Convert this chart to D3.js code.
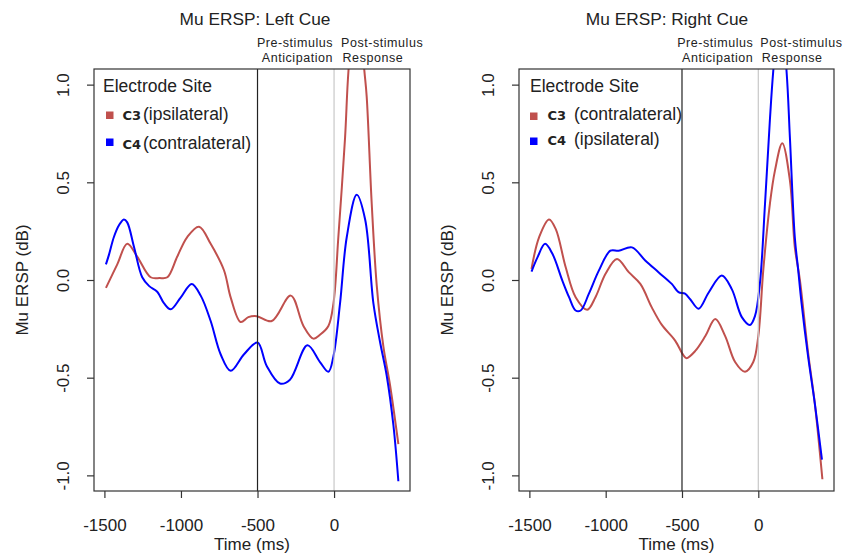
<!DOCTYPE html>
<html>
<head>
<meta charset="utf-8">
<script src="https://cdn.jsdelivr.net/npm/d3@7"></script>
<style>
  body { margin: 0; background: #fff; }
  svg { display: block; font-family: "Liberation Sans", Arial, sans-serif; }
</style>
</head>
<body>
<div id="chart"></div>
<script>
// values: [time (ms), ERSP (dB)]
const leftC3 = [[-1490,-0.04],[-1416,0.08],[-1351,0.185],[-1286,0.12],[-1198,0.014],[-1140,0.01],[-1089,0.014],
  [-1024,0.12],[-959,0.22],[-882,0.273],[-806,0.185],[-719,0.05],[-675,-0.09],[-610,-0.215],[-560,-0.19],
  [-505,-0.185],[-407,-0.21],[-283,-0.08],[-200,-0.235],[-135,-0.30],[-92,-0.28],[-37,-0.235],[-4,-0.12],
  [28,0.22],[72,0.73],[94,1.07],[146,1.5],[198,1.07],[213,0.94],[246,0.39],[279,-0.03],[322,-0.34],[366,-0.54],[420,-0.84]];
const leftC4 = [[-1490,0.08],[-1470,0.13],[-1438,0.22],[-1405,0.28],[-1373,0.31],[-1351,0.295],[-1307,0.17],
  [-1253,0.014],[-1209,-0.03],[-1155,-0.06],[-1110,-0.12],[-1067,-0.15],[-1002,-0.09],[-930,-0.02],[-871,-0.08],
  [-806,-0.21],[-741,-0.38],[-675,-0.465],[-588,-0.38],[-500,-0.32],[-440,-0.44],[-353,-0.53],[-288,-0.51],
  [-174,-0.334],[-92,-0.42],[-37,-0.47],[-4,-0.39],[39,-0.12],[83,0.22],[148,0.436],[203,0.31],[257,-0.12],
  [301,-0.32],[344,-0.49],[388,-0.746],[420,-1.03]];
const rightC3 = [[-1486,0.057],[-1436,0.22],[-1371,0.31],[-1327,0.26],[-1262,0.065],[-1197,-0.088],[-1121,-0.152],
  [-1067,-0.088],[-1001,0.032],[-926,0.108],[-849,0.04],[-773,-0.02],[-698,-0.14],[-632,-0.23],[-545,-0.31],
  [-491,-0.385],[-470,-0.40],[-413,-0.363],[-347,-0.287],[-282,-0.2],[-217,-0.287],[-152,-0.42],[-87,-0.47],
  [-33,-0.42],[0,-0.287],[33,0.054],[76,0.39],[109,0.56],[157,0.70],[207,0.51],[239,0.17],[272,0.003],
  [326,-0.37],[370,-0.63],[420,-1.02]];
const rightC4 = [[-1486,0.043],[-1447,0.116],[-1397,0.185],[-1349,0.134],[-1284,-0.003],[-1240,-0.088],[-1197,-0.156],
  [-1164,-0.156],[-1110,-0.07],[-1045,0.048],[-969,0.15],[-915,0.15],[-828,0.167],[-741,0.1],[-654,0.04],
  [-567,-0.02],[-523,-0.062],[-480,-0.07],[-445,-0.1],[-391,-0.147],[-326,-0.065],[-239,0.023],[-173,-0.048],
  [-108,-0.19],[-54,-0.23],[-22,-0.185],[11,-0.014],[44,0.39],[76,0.82],[98,1.07],[141,1.42],[185,1.07],
  [207,0.73],[239,0.22],[261,0.054],[283,-0.116],[326,-0.39],[370,-0.63],[417,-0.92]];

const xTicks = [-1500, -1000, -500, 0];
const yTicks = [-1.0, -0.5, 0.0, 0.5, 1.0];
const markerLines = [-500, 0];
const titles = ["Mu ERSP: Left Cue", "Mu ERSP: Right Cue"];
const leftLabels = ["(ipsilateral)", "(contralateral)"];
const rightLabels = ["(contralateral)", "(ipsilateral)"];

const width = 846, height = 555;
const red = "#c0504d", blue = "#0000ff";

const svg = d3.select("#chart").append("svg")
    .attr("width", width)
    .attr("height", height)
    .attr("viewBox", [0, 0, width, height]);

svg.append("rect").attr("width", width).attr("height", height).attr("fill", "#fff");

const panels = [
  { id: "l", left: 94, right: 410, titleX: 255, c3: leftC3, c4: leftC4, labels: leftLabels,
    legX: 103, sqX: 106, codeX: 122.5, descX: 143, rows: [115, 142], base: [120, 149], preDx: -1, postDx: 7 },
  { id: "r", left: 519, right: 834, titleX: 667, c3: rightC3, c4: rightC4, labels: rightLabels,
    legX: 530, sqX: 530, codeX: 547.5, descX: 574, rows: [116, 141], base: [120, 145], preDx: -5, postDx: 2 }
];

panels.forEach((p, i) => plot(p, titles[i]));

function plot(p, title) {
  const top = 69, bottom = 491;

  const x = d3.scaleLinear().domain([-1568, 496]).range([p.left, p.right]);
  const y = d3.scaleLinear().domain([-1.08, 1.08]).range([bottom, top]);

  const g = svg.append("g");

  g.append("clipPath").attr("id", "clip-" + p.id)
    .append("rect")
      .attr("x", p.left).attr("y", top)
      .attr("width", p.right - p.left).attr("height", bottom - top);

  const plotArea = g.append("g").attr("clip-path", `url(#clip-${p.id})`);

  // curves
  const line = d3.line()
      .x(d => x(d[0]))
      .y(d => y(d[1]))
      .curve(d3.curveCatmullRom.alpha(0.5));

  plotArea.append("path").datum(p.c3)
      .attr("fill", "none").attr("stroke", red).attr("stroke-width", 2)
      .attr("d", line);
  plotArea.append("path").datum(p.c4)
      .attr("fill", "none").attr("stroke", blue).attr("stroke-width", 2)
      .attr("d", line);

  // stimulus markers
  plotArea.selectAll(".marker")
    .data(markerLines)
    .join("line")
      .attr("x1", d => x(d)).attr("x2", d => x(d))
      .attr("y1", top).attr("y2", bottom)
      .attr("stroke", d => d === 0 ? "#c8c8c8" : "#222")
      .attr("stroke-width", 1.2);

  // box
  g.append("rect")
      .attr("x", p.left).attr("y", top)
      .attr("width", p.right - p.left).attr("height", bottom - top)
      .attr("fill", "none").attr("stroke", "#333").attr("stroke-width", 1.2);

  // x axis
  g.append("g")
      .attr("transform", `translate(0,${bottom})`)
      .call(d3.axisBottom(x).tickValues(xTicks).tickSize(7).tickFormat(d3.format("d")))
      .call(a => a.select(".domain").remove())
      .call(a => a.selectAll("line").attr("stroke", "#333").attr("stroke-width", 1.2))
      .call(a => a.selectAll("text")
          .attr("y", 40).attr("dy", null)
          .attr("font-size", 17).attr("font-family", "Liberation Sans, Arial, sans-serif")
          .attr("fill", "#222")
          .text(d => d < 0 ? "-" + Math.abs(d) : d));

  // y axis
  g.append("g")
      .attr("transform", `translate(${p.left},0)`)
      .call(d3.axisLeft(y).tickValues(yTicks).tickSize(7).tickFormat(d => d.toFixed(1).replace("\u2212", "-")))
      .call(a => a.select(".domain").remove())
      .call(a => a.selectAll("line").attr("stroke", "#333").attr("stroke-width", 1.2))
      .call(a => a.selectAll("text")
          .attr("transform", "rotate(-90)")
          .attr("x", 0).attr("y", -25).attr("dy", null)
          .attr("text-anchor", "middle")
          .attr("font-size", 17).attr("font-family", "Liberation Sans, Arial, sans-serif")
          .attr("fill", "#222"));

  // axis titles
  g.append("text")
      .attr("x", (p.left + p.right) / 2).attr("y", 550)
      .attr("text-anchor", "middle").attr("font-size", 17).attr("fill", "#222")
      .text("Time (ms)");

  g.append("text")
      .attr("transform", `translate(${p.left - 66},${(top + bottom) / 2}) rotate(-90)`)
      .attr("text-anchor", "middle").attr("font-size", 17).attr("fill", "#222")
      .text("Mu ERSP (dB)");

  g.append("text")
      .attr("x", p.titleX).attr("y", 25)
      .attr("text-anchor", "middle").attr("font-size", 17.3).attr("fill", "#222")
      .text(title);

  // period annotations
  const ann = g.append("g").attr("font-size", 12.5).attr("letter-spacing", 0.55).attr("fill", "#222");
  ann.append("text").attr("x", x(0) + p.preDx).attr("y", 47).attr("text-anchor", "end").text("Pre-stimulus");
  ann.append("text").attr("x", x(0) + p.preDx).attr("y", 62).attr("text-anchor", "end").text("Anticipation");
  ann.append("text").attr("x", x(0) + p.postDx).attr("y", 47).text("Post-stimulus");
  ann.append("text").attr("x", x(0) + p.postDx + 1.5).attr("y", 62).text("Response");

  // legend
  const leg = g.append("g").attr("fill", "#222");
  leg.append("text").attr("x", p.legX).attr("y", 92).attr("font-size", 17.5).text("Electrode Site");

  const entries = [["C3", red, p.labels[0]], ["C4", blue, p.labels[1]]];
  entries.forEach(([code, color, label], k) => {
    leg.append("rect")
        .attr("x", p.sqX).attr("y", p.rows[k] - 3.5)
        .attr("width", 7.5).attr("height", 7.5)
        .attr("fill", color);
    leg.append("text")
        .attr("x", p.codeX).attr("y", p.base[k])
        .attr("font-family", "DejaVu Sans, sans-serif").attr("font-weight", "bold")
        .attr("font-size", 13).text(code);
    leg.append("text")
        .attr("x", p.descX).attr("y", p.base[k])
        .attr("font-size", 17.5).text(label);
  });
}
</script>
</body>
</html>
